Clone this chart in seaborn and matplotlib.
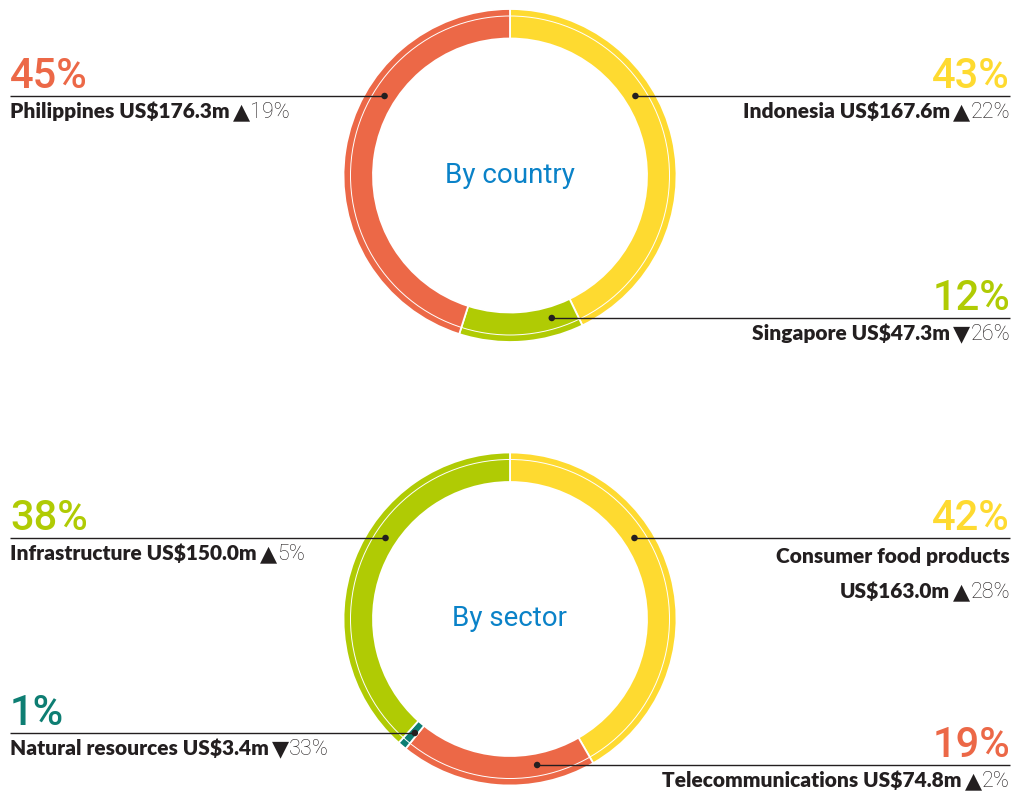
import numpy as np
import matplotlib.pyplot as plt
from matplotlib.patches import Circle
import seaborn as sns

# By country (clockwise from 12 o'clock)
countries = ["Indonesia", "Singapore", "Philippines"]
country_values = [167.6, 47.3, 176.3]  # US$m
country_change = [22, -26, 19]  # % change
country_colors = ["#FEDA30", "#B0CB04", "#EC6847"]

# By sector (clockwise from 12 o'clock)
sectors = ["Consumer food products", "Telecommunications", "Natural resources", "Infrastructure"]
sector_values = [163.0, 74.8, 3.4, 150.0]
sector_change = [28, 2, -33, 5]
sector_colors = ["#FEDA30", "#EC6847", "#0E7E73", "#B0CB04"]

# label layout: side of the figure and y of the leader line
country_layout = [("right", 96), ("right", 318), ("left", 96)]
sector_layout = [("right", 538), ("right", 765), ("left", 733), ("left", 538)]

sns.set_theme(style="white")
plt.rcParams["font.family"] = ["Roboto", "DejaVu Sans"]

W, H = 1017, 793
fig = plt.figure(figsize=(W / 100, H / 100), dpi=100)
ax = fig.add_axes([0, 0, 1, 1])
renderer = fig.canvas.get_renderer()

DARK = "#231F20"
LABEL_FONT = dict(family=["Lato", "DejaVu Sans"], fontweight="heavy",
                  fontsize=15, color=DARK)
ARROW_FONT = dict(family=["DejaVu Sans"], fontsize=16, color=DARK)
CHANGE_FONT = dict(family=["Roboto", "DejaVu Sans"], fontweight="light", fontsize=15.5, color=DARK)


def draw_pieces(x, y, pieces, side):
    # pieces: (text, font, space before the piece)
    if side == "left":
        for s, kw, gap in pieces:
            x += gap
            t = ax.text(x, y, s, ha="left", va="baseline", **kw)
            x += t.get_window_extent(renderer).width
    else:
        gap_after = 0
        for s, kw, gap in reversed(pieces):
            x -= gap_after
            t = ax.text(x, y, s, ha="right", va="baseline", **kw)
            x -= t.get_window_extent(renderer).width
            gap_after = gap


def donut(names, values, changes, colors, layout, center, title):
    cx, cy = center
    r_out, ring = 166.5, 29.5
    ax.pie(values, colors=colors, radius=r_out, center=center, startangle=-90,
           counterclock=True, wedgeprops=dict(width=ring, edgecolor="white", linewidth=1.3))
    ax.add_patch(Circle(center, r_out - 7, fill=False, ec="white", lw=0.7, zorder=3))
    ax.text(cx, cy, title, ha="center", va="center", color="#0A82C8", fontsize=20,
            family=["Roboto", "DejaVu Sans"])

    total = sum(values)
    r_dot = 148.5
    dots_x, dots_y = [], []
    for name, val, chg, col, (side, ly) in zip(names, values, changes, colors, layout):
        pct = round(val / total * 100)
        dx = np.sqrt(r_dot ** 2 - (ly - cy) ** 2)
        if side == "left":
            dot_x, x0, x1, tx = cx - dx, 10, cx - dx, 10
        else:
            dot_x, x0, x1, tx = cx + dx, cx + dx, 1010, 1010
        ax.plot([x0, x1], [ly, ly], color=DARK, lw=1.0, zorder=4, solid_capstyle="butt")
        dots_x.append(dot_x)
        dots_y.append(ly)

        ha = "left" if side == "left" else "right"
        ax.text(tx, ly - 8, f"{pct}%", ha=ha, va="baseline", color=col,
                fontsize=30, fontweight="medium", family=["Roboto", "DejaVu Sans"])

        arrow = "\u25B2" if chg >= 0 else "\u25BC"
        value_txt = f"US${val:.1f}m"
        tail = [(arrow, ARROW_FONT, 3), (f"{abs(chg)}%", CHANGE_FONT, 0)]
        if len(name) > 20:
            ax.text(tx, ly + 25, name, ha=ha, va="baseline", **LABEL_FONT)
            draw_pieces(tx, ly + 60, [(value_txt, LABEL_FONT, 0)] + tail, side)
        else:
            draw_pieces(tx, ly + 22, [(f"{name} {value_txt}", LABEL_FONT, 0)] + tail, side)

    sns.scatterplot(x=dots_x, y=dots_y, ax=ax, color=DARK, s=22, edgecolor="none",
                    zorder=5, legend=False)


donut(countries, country_values, country_change, country_colors, country_layout,
      (510, 175.5), "By country")
donut(sectors, sector_values, sector_change, sector_colors, sector_layout,
      (510, 619), "By sector")

ax.set_xlim(0, W)
ax.set_ylim(H, 0)
ax.set_aspect("equal")
ax.axis("off")

fig.savefig("out.png", dpi=100, facecolor="white")
